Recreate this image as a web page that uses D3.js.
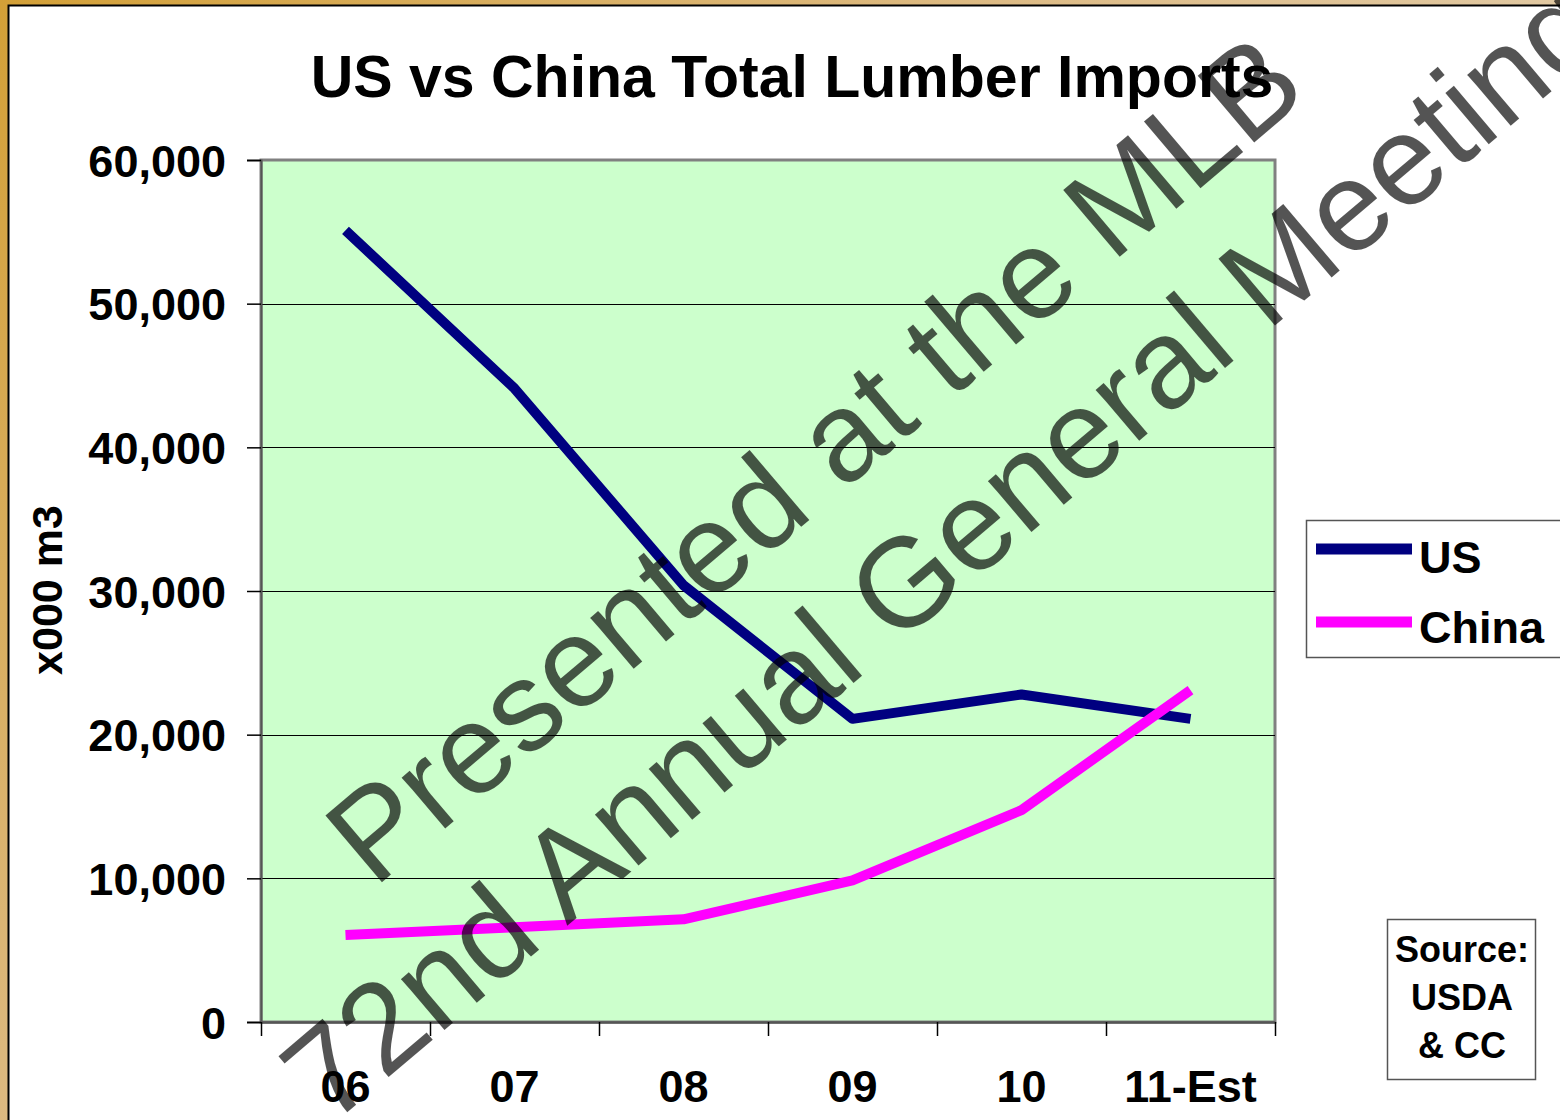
<!DOCTYPE html>
<html>
<head>
<meta charset="utf-8">
<script src="https://cdn.jsdelivr.net/npm/d3@7"></script>
<style>
  html, body { margin: 0; padding: 0; background: #fff; }
  svg { display: block; }
  text { font-family: Arial, "Liberation Sans", Helvetica, sans-serif; }
</style>
</head>
<body>
<svg id="chart" width="1560" height="1120"></svg>
<script>
// Lumber imports, thousand cubic metres
const years = ["06", "07", "08", "09", "10", "11-Est"];
const usImports = [55100, 44100, 30400, 21100, 22800, 21100];
const chinaImports = [6050, 6600, 7150, 9850, 14750, 23100];
const yTicks = [0, 10000, 20000, 30000, 40000, 50000, 60000];
const seriesNames = ["US", "China"];
const seriesColors = ["#000080", "#FF00FF"];
const sourceLines = ["Source:", "USDA", "& CC"];
const watermarkLines = ["Presented at the MLB", "72nd Annual General Meeting"];

const svg = d3.select("#chart");
const W = 1560, H = 1120;

// slide frame
const defs = svg.append("defs");
const grad = defs.append("linearGradient")
  .attr("id", "frameGrad")
  .attr("gradientUnits", "userSpaceOnUse")
  .attr("x1", 0).attr("y1", 0).attr("x2", 1300).attr("y2", 1100);
grad.append("stop").attr("offset", "0%").attr("stop-color", "#D3A037");
grad.append("stop").attr("offset", "45%").attr("stop-color", "#DDBB85");
grad.append("stop").attr("offset", "100%").attr("stop-color", "#E6D9C4");

svg.append("rect").attr("x", 0).attr("y", 0).attr("width", W).attr("height", H)
  .attr("fill", "url(#frameGrad)");
svg.append("rect").attr("x", 8.5).attr("y", 5.5).attr("width", W + 10).attr("height", H + 10)
  .attr("fill", "#fff").attr("stroke", "#000").attr("stroke-width", 2);

// plot area
const plot = { left: 261, right: 1275, top: 160, bottom: 1022 };

const x = d3.scaleBand().domain(years).range([plot.left, plot.right]).padding(0);
const y = d3.scaleLinear().domain([0, 60000]).range([plot.bottom, plot.top]);

svg.append("rect")
  .attr("x", plot.left).attr("y", plot.top)
  .attr("width", plot.right - plot.left).attr("height", plot.bottom - plot.top)
  .attr("fill", "#CCFFCC")
  .attr("stroke", "#808080").attr("stroke-width", 3);

// gridlines
svg.append("g").selectAll("line")
  .data(yTicks.filter(d => d > 0 && d < 60000))
  .join("line")
  .attr("x1", plot.left).attr("x2", plot.right)
  .attr("y1", d => Math.round(y(d)) + 0.5).attr("y2", d => Math.round(y(d)) + 0.5)
  .attr("stroke", "#000").attr("stroke-width", 1.2);

// y axis
const yAxis = svg.append("g")
  .attr("transform", `translate(${plot.left},0)`)
  .call(d3.axisLeft(y).tickValues(yTicks).tickFormat(d3.format(",")).tickSize(14).tickPadding(21));
yAxis.select(".domain").attr("stroke", "#555").attr("stroke-width", 2);
yAxis.selectAll(".tick line").attr("stroke", "#000").attr("stroke-width", 1.5);
yAxis.selectAll(".tick text")
  .attr("font-size", 45).attr("font-weight", "bold").attr("fill", "#000")
  .attr("font-family", "Arial, 'Liberation Sans', sans-serif")
  .attr("dy", "0.36em");

// x axis: labels at category centres, ticks on category boundaries
const xAxis = svg.append("g")
  .attr("transform", `translate(0,${plot.bottom})`)
  .call(d3.axisBottom(x).tickSize(0).tickPadding(48));
xAxis.select(".domain").attr("stroke", "#555").attr("stroke-width", 2.5);
xAxis.selectAll(".tick text")
  .attr("font-size", 45).attr("font-weight", "bold").attr("fill", "#000")
  .attr("font-family", "Arial, 'Liberation Sans', sans-serif")
  .attr("dy", "0.71em").attr("y", 48);
const boundaries = years.map(d => x(d)).concat([x.range()[1]]);
svg.append("g").selectAll("line")
  .data(boundaries)
  .join("line")
  .attr("x1", d => Math.round(d) + 0.5).attr("x2", d => Math.round(d) + 0.5)
  .attr("y1", plot.bottom).attr("y2", plot.bottom + 14)
  .attr("stroke", "#000").attr("stroke-width", 1.5);

// series lines
const line = d3.line()
  .x((d, i) => x(years[i]) + x.bandwidth() / 2)
  .y(d => y(d));

[usImports, chinaImports].forEach((vals, k) => {
  svg.append("path")
    .datum(vals)
    .attr("d", line)
    .attr("fill", "none")
    .attr("stroke", seriesColors[k])
    .attr("stroke-width", 10)
    .attr("stroke-linejoin", "round")
    .attr("stroke-linecap", "butt");
});

// title
svg.append("text")
  .attr("x", 792).attr("y", 97)
  .attr("text-anchor", "middle")
  .attr("font-size", 59).attr("font-weight", "bold")
  .text("US vs China Total Lumber Imports");

// y axis title
svg.append("text")
  .attr("transform", "translate(62,590) rotate(-90)")
  .attr("text-anchor", "middle")
  .attr("font-size", 43).attr("font-weight", "bold")
  .text("x000 m3");

// legend
const legend = svg.append("g");
legend.append("rect")
  .attr("x", 1306.5).attr("y", 520.5).attr("width", 280).attr("height", 137)
  .attr("fill", "#fff").attr("stroke", "#555").attr("stroke-width", 1.5);
seriesNames.forEach((name, k) => {
  const cy = 549 + k * 73;
  legend.append("line")
    .attr("x1", 1316).attr("x2", 1412).attr("y1", cy).attr("y2", cy)
    .attr("stroke", seriesColors[k]).attr("stroke-width", 11);
  legend.append("text")
    .attr("x", 1419).attr("y", 573 + k * 70)
    .attr("font-size", 45).attr("font-weight", "bold")
    .text(name);
});

// source box
const src = svg.append("g");
src.append("rect")
  .attr("x", 1387.5).attr("y", 919.5).attr("width", 148).attr("height", 160)
  .attr("fill", "#fff").attr("stroke", "#555").attr("stroke-width", 1.5);
sourceLines.forEach((t, i) => {
  src.append("text")
    .attr("x", 1462).attr("y", 962 + i * 48)
    .attr("text-anchor", "middle")
    .attr("font-size", 36).attr("font-weight", "bold")
    .text(t);
});

// watermark
const wmStarts = [[374, 889], [330, 1127]];
watermarkLines.forEach((t, i) => {
  svg.append("text")
    .attr("transform", `translate(${wmStarts[i][0]},${wmStarts[i][1]}) rotate(-40.3)`)
    .attr("font-size", 127)
    .attr("font-family", "Arial, 'Liberation Sans', sans-serif")
    .attr("fill", "#000").attr("fill-opacity", 0.67)
    .text(t);
});
</script>
</body>
</html>
